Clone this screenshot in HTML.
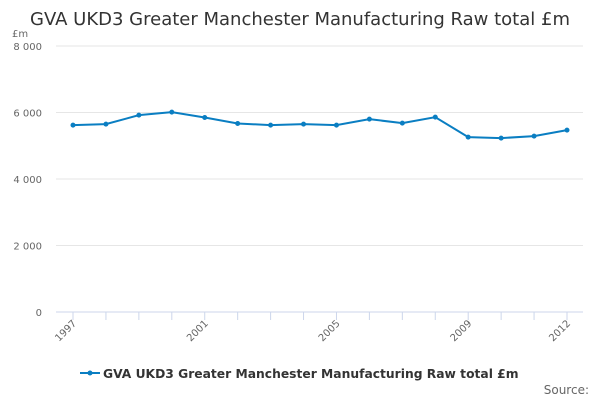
<!DOCTYPE html>
<html><head><meta charset="utf-8"><style>
body{margin:0;background:#fff;font-family:"DejaVu Sans","Liberation Sans",sans-serif}
svg{display:block}
</style></head><body>
<svg id="chart" width="600" height="400">
<text x="300" y="25" text-anchor="middle" font-size="18" fill="#333">GVA UKD3 Greater Manchester Manufacturing Raw total £m</text>
<text x="12" y="37" font-size="10" fill="#666">£m</text>
<g id="grid"></g><g id="xaxis"></g><g id="series"></g>
<g>
<line x1="80" y1="373" x2="100" y2="373" stroke="#0a7ec2" stroke-width="2"/>
<circle cx="90" cy="373" r="2.5" fill="#0a7ec2"/>
<text x="103" y="378" font-size="12.3" font-weight="bold" fill="#333">GVA UKD3 Greater Manchester Manufacturing Raw total £m</text>
</g>
<text x="589" y="394" text-anchor="end" font-size="12" fill="#666">Source:</text>
</svg>
<script>
const years=[1997,1998,1999,2000,2001,2002,2003,2004,2005,2006,2007,2008,2009,2010,2011,2012];
const values=[5620,5650,5920,6010,5850,5670,5620,5650,5620,5800,5680,5860,5260,5230,5290,5470];
const yTicks=[0,2000,4000,6000,8000];
const yTickLabels=["0","2 000","4 000","6 000","8 000"];
const xLabelYears=[1997,2001,2005,2009,2012];
const NS="http://www.w3.org/2000/svg";
const x=yr=>73+(yr-1997)*(494/15);
const y=v=>312-v/8000*266;
function mk(t,a,p){const e=document.createElementNS(NS,t);for(const k in a)e.setAttribute(k,a[k]);p.appendChild(e);return e;}
const grid=document.getElementById('grid'),xa=document.getElementById('xaxis'),se=document.getElementById('series');
yTicks.forEach((t,i)=>{
const l=mk('line',{x1:56,x2:583,y1:y(t),y2:y(t),stroke:t===0?'#ccd6eb':'#e6e6e6'},grid);


const tx=mk('text',{x:42,y:y(t)+4,'text-anchor':'end','font-size':10,fill:'#666'},grid);
tx.textContent=yTickLabels[i];


});
years.forEach(yr=>{
const tk=mk('line',{x1:x(yr),x2:x(yr),y1:312,y2:320,stroke:'#ccd6eb'},xa);


});
xLabelYears.forEach(yr=>{
const tx=mk('text',{x:x(yr)+4,y:324,'text-anchor':'end','font-size':10,fill:'#666',transform:`rotate(-45 ${x(yr)+4} 324)`},xa);
tx.textContent=yr;


});
const pl=mk('polyline',{points:years.map((yr,i)=>x(yr)+','+y(values[i])).join(' '),fill:'none',stroke:'#0a7ec2','stroke-width':2},se);


years.forEach((yr,i)=>{
const c=mk('circle',{cx:x(yr),cy:y(values[i]),r:2.5,fill:'#0a7ec2'},se);


});
</script>
</body></html>
